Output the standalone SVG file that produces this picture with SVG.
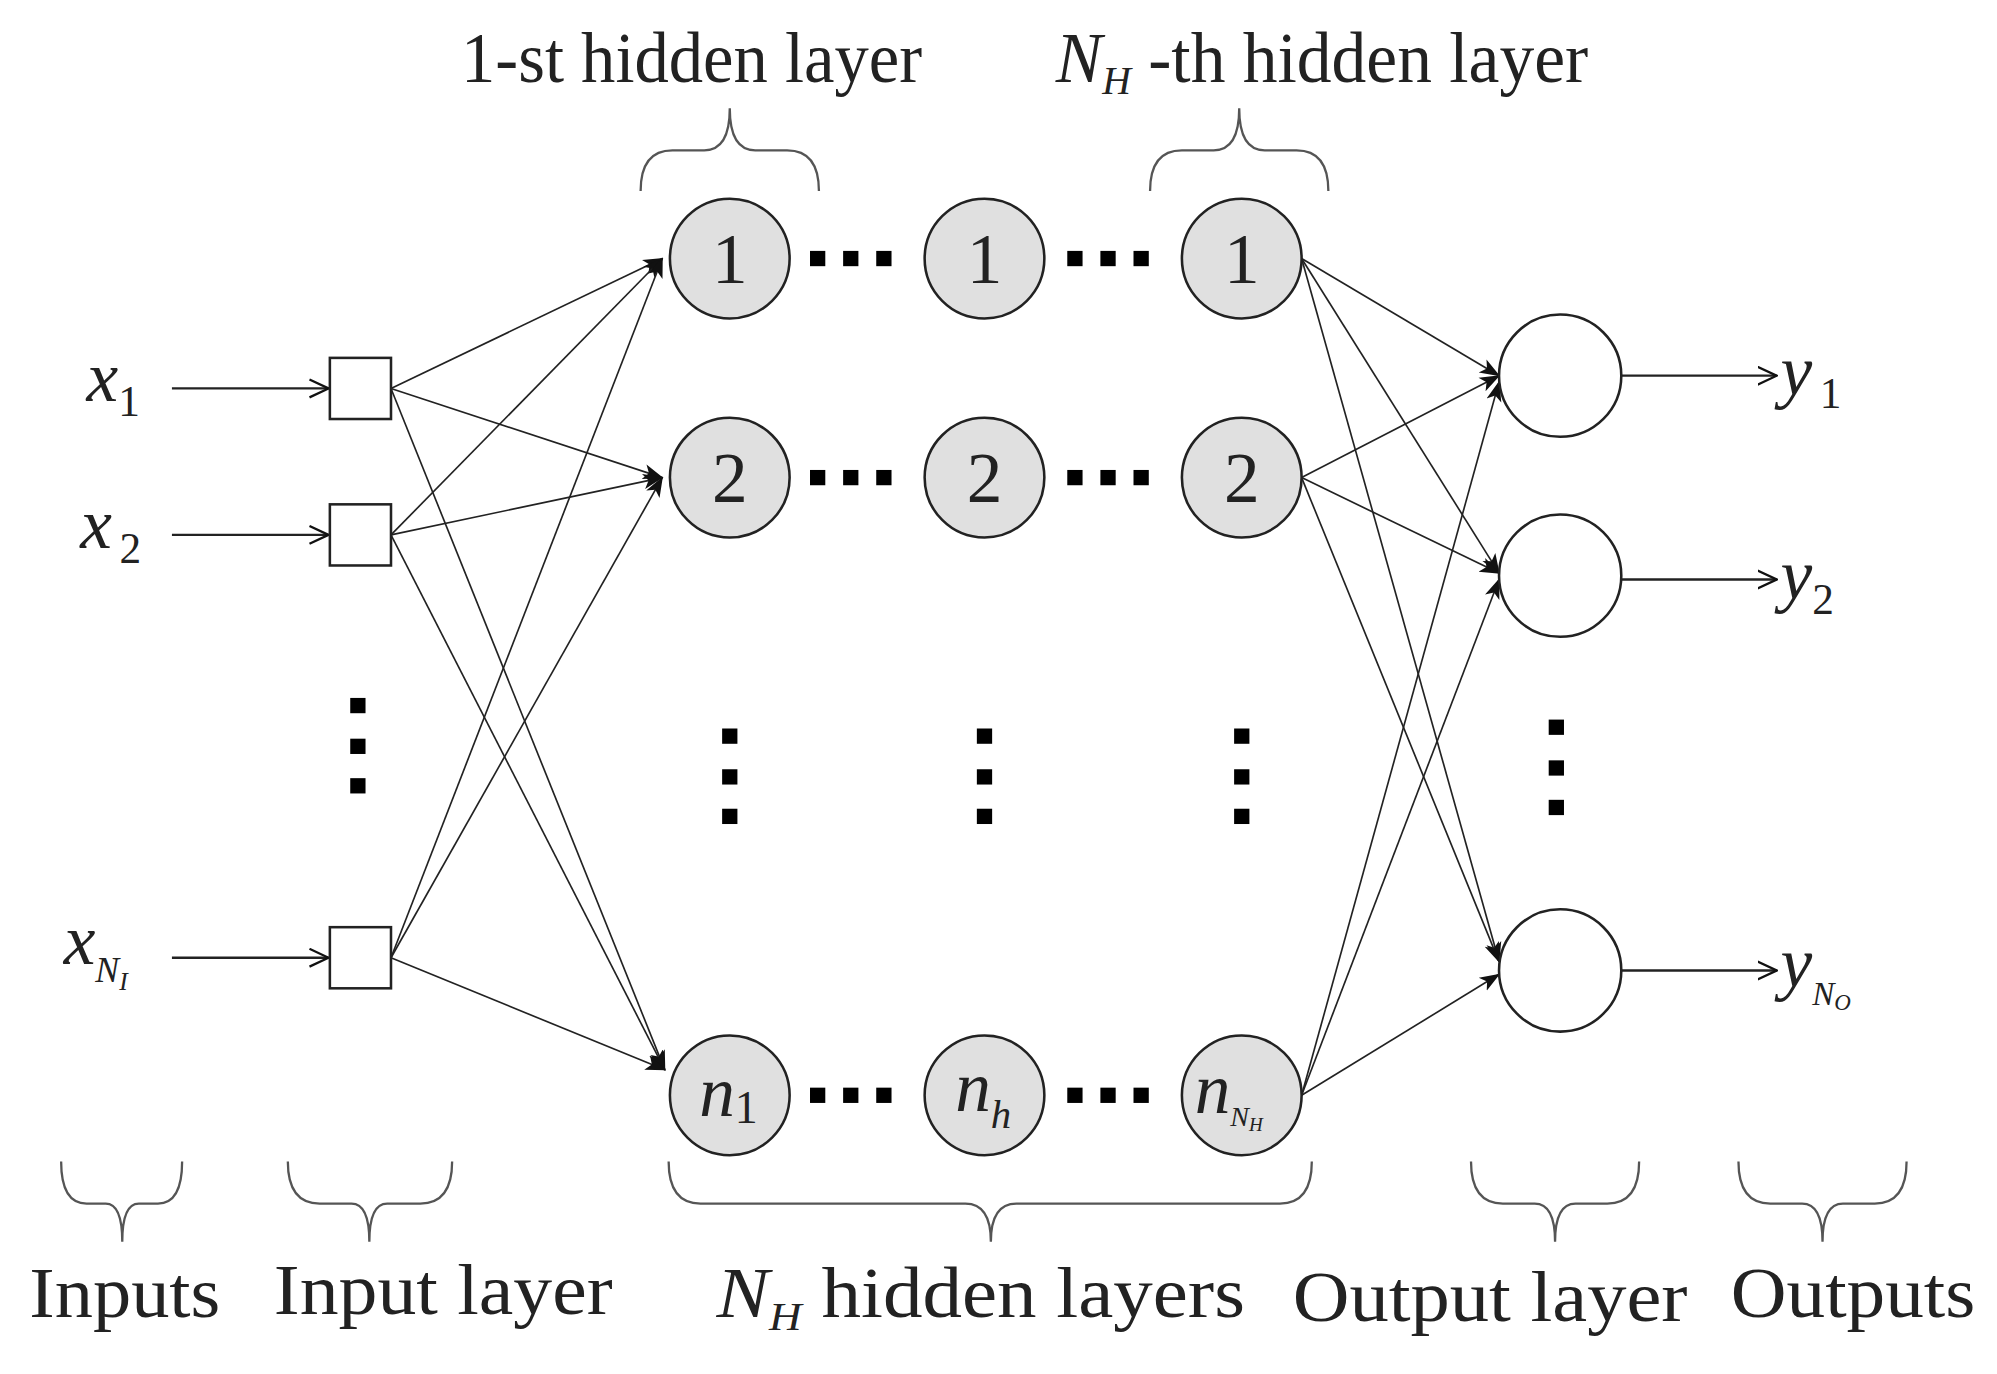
<svg xmlns="http://www.w3.org/2000/svg" width="1997" height="1374" viewBox="0 0 1997 1374">
<defs>
<marker id="ah" markerWidth="16" markerHeight="14" refX="15" refY="7" orient="auto" markerUnits="userSpaceOnUse"><path d="M0,1 L16,7 L0,13 L4,7 z" fill="#111"/></marker>
<marker id="ao" markerWidth="16" markerHeight="16" refX="15" refY="8" orient="auto" markerUnits="userSpaceOnUse"><path d="M0,1 L15,8 L0,15" fill="none" stroke="#111" stroke-width="1.8"/></marker>
<style>
.t{font-family:"Liberation Serif",serif;fill:#222;font-size:56px}
.i{font-style:italic}
.hn{fill:#e0e0e0;stroke:#222;stroke-width:2}
.on{fill:#fff;stroke:#222;stroke-width:2}
.sq{fill:#fff;stroke:#222;stroke-width:2}
.c{stroke:#222;stroke-width:1.3;fill:none;marker-end:url(#ah)}
.io{stroke:#222;stroke-width:1.8;fill:none;marker-end:url(#ao)}
.br{fill:none;stroke:#555;stroke-width:1.8}
.d{fill:#000}
</style>
</defs>
<rect width="1997" height="1374" fill="#fff"/>
<g transform="scale(1.2736)">
<g id="connectors">
<line class="io" x1="135" y1="305" x2="258" y2="305"/>
<line class="io" x1="135" y1="420" x2="258" y2="420"/>
<line class="io" x1="135" y1="752" x2="258" y2="752"/>
<line class="io" x1="1273" y1="295" x2="1395" y2="295"/>
<line class="io" x1="1273" y1="455" x2="1395" y2="455"/>
<line class="io" x1="1273" y1="762" x2="1395" y2="762"/>
<line class="c" x1="307" y1="305" x2="520" y2="203"/>
<line class="c" x1="307" y1="305" x2="520" y2="375"/>
<line class="c" x1="307" y1="305" x2="522" y2="840"/>
<line class="c" x1="307" y1="420" x2="520" y2="203"/>
<line class="c" x1="307" y1="420" x2="520" y2="375"/>
<line class="c" x1="307" y1="420" x2="522" y2="840"/>
<line class="c" x1="307" y1="752" x2="520" y2="203"/>
<line class="c" x1="307" y1="752" x2="520" y2="375"/>
<line class="c" x1="307" y1="752" x2="522" y2="840"/>
<line class="c" x1="1022" y1="203" x2="1177" y2="295"/>
<line class="c" x1="1022" y1="203" x2="1177" y2="450"/>
<line class="c" x1="1022" y1="203" x2="1177" y2="755"/>
<line class="c" x1="1022" y1="375" x2="1177" y2="295"/>
<line class="c" x1="1022" y1="375" x2="1177" y2="450"/>
<line class="c" x1="1022" y1="375" x2="1177" y2="755"/>
<line class="c" x1="1022" y1="860" x2="1177" y2="300"/>
<line class="c" x1="1022" y1="860" x2="1177" y2="455"/>
<line class="c" x1="1022" y1="860" x2="1177" y2="765"/>
</g>
<g id="inputs">
<rect class="sq" x="259" y="281" width="48" height="48"/>
<rect class="sq" x="259" y="396" width="48" height="48"/>
<rect class="sq" x="259" y="728" width="48" height="48"/>
<text class="t i" x="68" y="315">x<tspan font-size="34" font-style="normal" dy="12">1</tspan></text>
<text class="t i" x="63" y="430">x<tspan font-size="34" dx="6" font-style="normal" dy="12">2</tspan></text>
<text class="t i" x="50" y="757">x<tspan font-size="28" dy="14">N</tspan><tspan font-size="20" dy="6">I</tspan></text>
</g>
<g id="hidden">
<circle class="hn" cx="573" cy="203" r="47"/><circle class="hn" cx="773" cy="203" r="47"/><circle class="hn" cx="975" cy="203" r="47"/>
<circle class="hn" cx="573" cy="375" r="47"/><circle class="hn" cx="773" cy="375" r="47"/><circle class="hn" cx="975" cy="375" r="47"/>
<circle class="hn" cx="573" cy="860" r="47"/><circle class="hn" cx="773" cy="860" r="47"/><circle class="hn" cx="975" cy="860" r="47"/>
<text class="t" x="573" y="222" text-anchor="middle">1</text>
<text class="t" x="773" y="222" text-anchor="middle">1</text>
<text class="t" x="975" y="222" text-anchor="middle">1</text>
<text class="t" x="573" y="394" text-anchor="middle">2</text>
<text class="t" x="773" y="394" text-anchor="middle">2</text>
<text class="t" x="975" y="394" text-anchor="middle">2</text>
<text class="t i" x="549" y="876">n<tspan font-size="36" font-style="normal" dy="6">1</tspan></text>
<text class="t i" x="750" y="872">n<tspan font-size="32" dy="14">h</tspan></text>
<text class="t i" x="938" y="874">n<tspan font-size="22" dy="10">N</tspan><tspan font-size="15" dy="4">H</tspan></text>
</g>
<g id="outputs">
<circle class="on" cx="1225" cy="295" r="48"/>
<circle class="on" cx="1225" cy="452" r="48"/>
<circle class="on" cx="1225" cy="762" r="48"/>
<text class="t i" x="1398" y="310">y<tspan font-size="34" font-style="normal" dx="6" dy="10">1</tspan></text>
<text class="t i" x="1398" y="470">y<tspan font-size="34" font-style="normal" dy="12">2</tspan></text>
<text class="t i" x="1398" y="775">y<tspan font-size="26" dy="14">N</tspan><tspan font-size="18" dy="4">O</tspan></text>
</g>
<g id="dots">
<g id="hd">
<rect class="d" x="636" y="197" width="12" height="12"/><rect class="d" x="662" y="197" width="12" height="12"/><rect class="d" x="688" y="197" width="12" height="12"/>
</g>
<use href="#hd" x="202"/>
<use href="#hd" y="172"/><use href="#hd" x="202" y="172"/>
<use href="#hd" y="657"/><use href="#hd" x="202" y="657"/>
<g id="vd"><rect class="d" x="275" y="548" width="12" height="12"/><rect class="d" x="275" y="580" width="12" height="12"/><rect class="d" x="275" y="611" width="12" height="12"/></g>
<use href="#vd" x="292" y="24"/><use href="#vd" x="492" y="24"/><use href="#vd" x="694" y="24"/><use href="#vd" x="941" y="17"/>
</g>
<g id="braces">
<path class="br" d="M503,150 Q503,118 528,118 L553,118 Q573,118 573,85 Q573,118 593,118 L618,118 Q643,118 643,150"/>
<path class="br" d="M903,150 Q903,118 928,118 L953,118 Q973,118 973,85 Q973,118 993,118 L1018,118 Q1043,118 1043,150"/>
<path class="br" d="M48,912 Q48,945 68,945 L83,945 Q96,945 96,975 Q96,945 109,945 L124,945 Q143,945 143,912"/>
<path class="br" d="M226,912 Q226,945 251,945 L276,945 Q290,945 290,975 Q290,945 304,945 L330,945 Q355,945 355,912"/>
<path class="br" d="M525,912 Q525,945 550,945 L758,945 Q778,945 778,975 Q778,945 798,945 L1005,945 Q1030,945 1030,912"/>
<path class="br" d="M1155,912 Q1155,945 1180,945 L1205,945 Q1221,945 1221,975 Q1221,945 1237,945 L1262,945 Q1287,945 1287,912"/>
<path class="br" d="M1365,912 Q1365,945 1390,945 L1415,945 Q1431,945 1431,975 Q1431,945 1447,945 L1472,945 Q1497,945 1497,912"/>
</g>
<g id="labels">
<text class="t" x="543" y="64" text-anchor="middle" textLength="362" lengthAdjust="spacingAndGlyphs">1-st hidden layer</text>
<text class="t" x="1038" y="64" text-anchor="middle" textLength="418" lengthAdjust="spacingAndGlyphs"><tspan class="i">N</tspan><tspan class="i" font-size="32" dy="10">H</tspan><tspan dy="-10"> -th hidden layer</tspan></text>
<text class="t" x="98" y="1034" text-anchor="middle" textLength="150" lengthAdjust="spacingAndGlyphs">Inputs</text>
<text class="t" x="348" y="1032" text-anchor="middle" textLength="266" lengthAdjust="spacingAndGlyphs">Input layer</text>
<text class="t" x="770" y="1034" text-anchor="middle" textLength="415" lengthAdjust="spacingAndGlyphs"><tspan class="i">N</tspan><tspan class="i" font-size="32" dy="10">H</tspan><tspan dy="-10"> hidden layers</tspan></text>
<text class="t" x="1170" y="1037" text-anchor="middle" textLength="310" lengthAdjust="spacingAndGlyphs">Output layer</text>
<text class="t" x="1455" y="1034" text-anchor="middle" textLength="192" lengthAdjust="spacingAndGlyphs">Outputs</text>
</g>
</g>
</svg>
